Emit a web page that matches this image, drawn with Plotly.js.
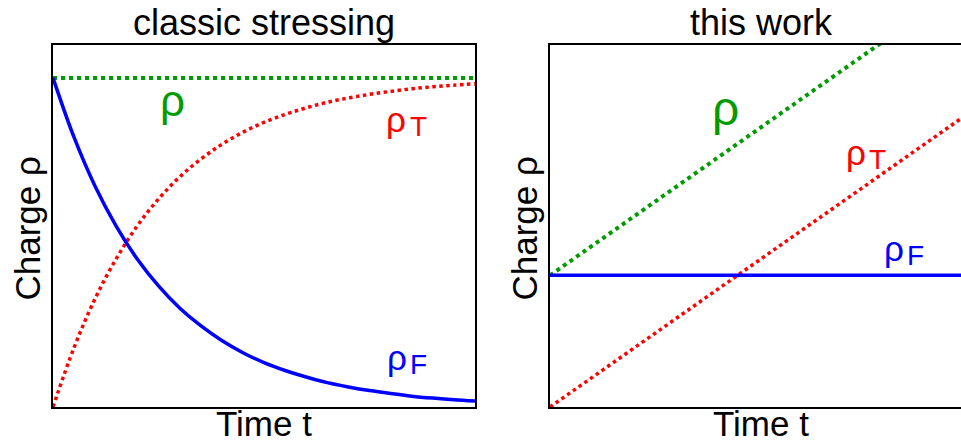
<!DOCTYPE html>
<html>
<head>
<meta charset="utf-8">
<script src="https://cdn.plot.ly/plotly-3.0.1.min.js"></script>
<style>
html,body{margin:0;padding:0;overflow:hidden;background:#fff;width:961px;height:445px;}
#chart{width:990px;height:445px;}
</style>
</head>
<body>
<div id="chart"></div>
<script>
// ---- data ----
// left panel: classic stressing
const timeClassic = [0,0.2,0.4,0.6,0.8,1.0,1.2,1.4,1.6,1.8,2.0,2.2,2.4,2.6,2.8,3.0,3.2,3.4,3.6,3.8,4.0];
const rhoFClassic = [1.000,0.819,0.670,0.549,0.449,0.368,0.301,0.247,0.202,0.165,0.135,0.111,0.091,0.074,0.061,0.050,0.041,0.033,0.027,0.022,0.018];
const rhoTClassic = [0.000,0.181,0.330,0.451,0.551,0.632,0.699,0.753,0.798,0.835,0.865,0.889,0.909,0.926,0.939,0.950,0.959,0.967,0.973,0.978,0.982];
const rhoTimeClassic = [0,4];
const rhoClassic = [1.0,1.0];
// right panel: this work
const timeWork = [0,4];
const rhoFWork = [0.4,0.4];
const rhoTWork = [0.0,0.9];
const rhoWork = [0.4,1.3];
// labels
const panelTitles = ["classic stressing","this work"];
const xTitle = "Time t";
const yTitle = "Charge ρ";

const GREEN = "rgb(0,155,0)", RED = "#ff0000", BLUE = "#0000ff";
const FONT = "Liberation Sans, Arial, sans-serif";

const traces = [
  {x: rhoTimeClassic, y: rhoClassic, xaxis:'x', yaxis:'y', mode:'lines', line:{color:GREEN, width:4, dash:'dot'}},
  {x: timeClassic, y: rhoTClassic, xaxis:'x', yaxis:'y', mode:'lines', line:{color:RED, width:3.5, dash:'dot', shape:'spline'}},
  {x: timeClassic, y: rhoFClassic, xaxis:'x', yaxis:'y', mode:'lines', line:{color:BLUE, width:3.5, shape:'spline'}},
  {x: timeWork, y: rhoWork, xaxis:'x2', yaxis:'y2', mode:'lines', line:{color:GREEN, width:4, dash:'dot'}},
  {x: timeWork, y: rhoTWork, xaxis:'x2', yaxis:'y2', mode:'lines', line:{color:RED, width:3.5, dash:'dot'}},
  {x: timeWork, y: rhoFWork, xaxis:'x2', yaxis:'y2', mode:'lines', line:{color:BLUE, width:3.5}}
];

const axBase = {showgrid:false, zeroline:false, showticklabels:false, ticks:'', showline:true, mirror:true, linecolor:'#000', linewidth:2, fixedrange:true};

const d1 = [0, 422/919];
const d2 = [497/919, 1];

function ann(x, y, xref, yref, text, color, size){
  return {x:x, y:y, xref:xref, yref:yref, text:text, showarrow:false,
    font:{family:FONT, size:size, color:color}, xanchor:'center', yanchor:'middle'};
}
function paperText(x, y, text, size, opts){
  return Object.assign({x:x, y:y, xref:'paper', yref:'paper', text:text, showarrow:false,
    font:{family:FONT, size:size, color:'#000'}}, opts);
}

const annotations = [
  // panel titles
  paperText((d1[0]+d1[1])/2, 1, panelTitles[0], 36, {xanchor:'center', yanchor:'bottom'}),
  paperText((d2[0]+d2[1])/2, 1, panelTitles[1], 36, {xanchor:'center', yanchor:'bottom'}),
  // x titles
  paperText((d1[0]+d1[1])/2, 0, xTitle, 35, {xanchor:'center', yanchor:'bottom', yshift:-38}),
  paperText((d2[0]+d2[1])/2, 0, xTitle, 35, {xanchor:'center', yanchor:'bottom', yshift:-38}),
  // y titles
  paperText(d1[0], 0.493, yTitle, 35, {xanchor:'center', yanchor:'middle', textangle:-90, xshift:-25}),
  paperText(d2[0], 0.493, yTitle, 35, {xanchor:'center', yanchor:'middle', textangle:-90, xshift:-25}),
  // curve labels, left
  ann(1.133, 0.932, 'x', 'y', 'ρ', GREEN, 44),
  ann(3.251, 0.875, 'x', 'y', 'ρ', RED, 35),
  ann(3.469, 0.853, 'x', 'y', 'T', RED, 28),
  ann(3.265, 0.149, 'x', 'y', 'ρ', BLUE, 35),
  ann(3.469, 0.130, 'x', 'y', 'F', BLUE, 28),
  // curve labels, right
  ann(1.668, 0.908, 'x2', 'y2', 'ρ', GREEN, 48),
  ann(2.900, 0.772, 'x2', 'y2', 'ρ', RED, 35),
  ann(3.100, 0.751, 'x2', 'y2', 'T', RED, 28),
  ann(3.261, 0.483, 'x2', 'y2', 'ρ', BLUE, 35),
  ann(3.469, 0.459, 'x2', 'y2', 'F', BLUE, 28)
];

const layout = {
  width:990, height:445,
  margin:{l:53, r:18, t:45, b:38, autoexpand:false},
  paper_bgcolor:'#fff', plot_bgcolor:'#fff',
  showlegend:false,
  font:{family:FONT, color:'#000'},
  xaxis: Object.assign({}, axBase, {domain:d1, range:[0,4], anchor:'y'}),
  yaxis: Object.assign({}, axBase, {range:[0,1.1], anchor:'x'}),
  xaxis2: Object.assign({}, axBase, {domain:d2, range:[0,4], anchor:'y2'}),
  yaxis2: Object.assign({}, axBase, {range:[0,1.1], anchor:'x2'}),
  annotations: annotations
};

Plotly.newPlot('chart', traces, layout, {displayModeBar:false, staticPlot:true});
</script>
</body>
</html>
